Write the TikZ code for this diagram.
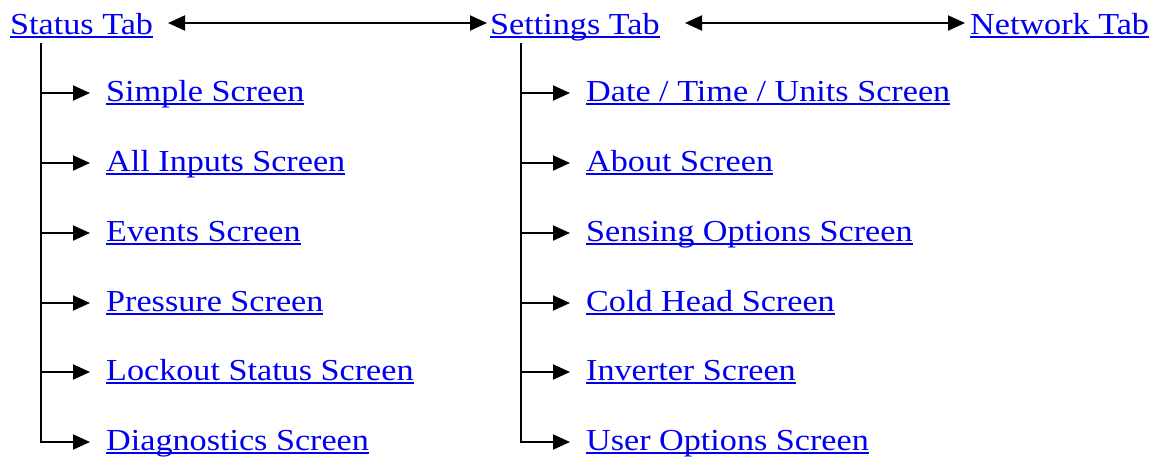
\documentclass[tikz,border=0pt]{standalone}
\usepackage{fontspec}
\setmainfont[FakeStretch=1.12]{Liberation Serif}
\usetikzlibrary{arrows.meta}
\definecolor{linkblue}{RGB}{0,0,238}
\newcommand\ulink[1]{\setbox0\hbox{#1}\rlap{\rule[-3.5pt]{\wd0}{1.8pt}}\box0}
\begin{document}
\begin{tikzpicture}[x=1pt,y=-1pt,
  lnk/.style={anchor=base west,inner sep=0pt,text=linkblue,font=\fontsize{30.5}{33}\selectfont},
  conn/.style={line width=1.9pt,draw=black},
  tip/.style={-{Triangle[length=17pt,width=15pt]}},
  dtip/.style={{Triangle[length=17pt,width=15pt]}-{Triangle[length=17pt,width=15pt]}}]
\useasboundingbox (0,0) rectangle (1152,459);
% tabs
\node[lnk] (status) at (10,34) {\ulink{Status Tab}};
\node[lnk] (settings) at (490,34) {\ulink{Settings Tab}};
\node[lnk] (network) at (970,34) {\ulink{Network Tab}};
\coordinate (sA) at (168,23);
\coordinate (sB) at (487,23);
\coordinate (nA) at (685,23);
\coordinate (nB) at (965,23);
\draw[conn,dtip] (sA) -- (sB);
\draw[conn,dtip] (nA) -- (nB);
% status screens
\node[lnk] (s1) at (106,101) {\ulink{Simple Screen}};
\node[lnk] (s2) at (106,171) {\ulink{All Inputs Screen}};
\node[lnk] (s3) at (106,241) {\ulink{Events Screen}};
\node[lnk] (s4) at (106,311) {\ulink{Pressure Screen}};
\node[lnk] (s5) at (106,380) {\ulink{Lockout Status Screen}};
\node[lnk] (s6) at (106,450) {\ulink{Diagnostics Screen}};
% settings screens
\node[lnk] (t1) at (586,101) {\ulink{Date / Time / Units Screen}};
\node[lnk] (t2) at (586,171) {\ulink{About Screen}};
\node[lnk] (t3) at (586,241) {\ulink{Sensing Options Screen}};
\node[lnk] (t4) at (586,311) {\ulink{Cold Head Screen}};
\node[lnk] (t5) at (586,380) {\ulink{Inverter Screen}};
\node[lnk] (t6) at (586,450) {\ulink{User Options Screen}};
% trees
\coordinate (stop) at (41,43);
\coordinate (ttop) at (521,43);
\draw[conn] (stop) -- (41,443);
\draw[conn] (ttop) -- (521,443);
\foreach \i/\y in {1/93,2/163,3/233,4/303,5/372,6/442}{
  \draw[conn,tip] (41,\y) -- ([xshift=-16pt]s\i.west |- 0,\y);
  \draw[conn,tip] (521,\y) -- ([xshift=-16pt]t\i.west |- 0,\y);
}
\end{tikzpicture}
\end{document}
